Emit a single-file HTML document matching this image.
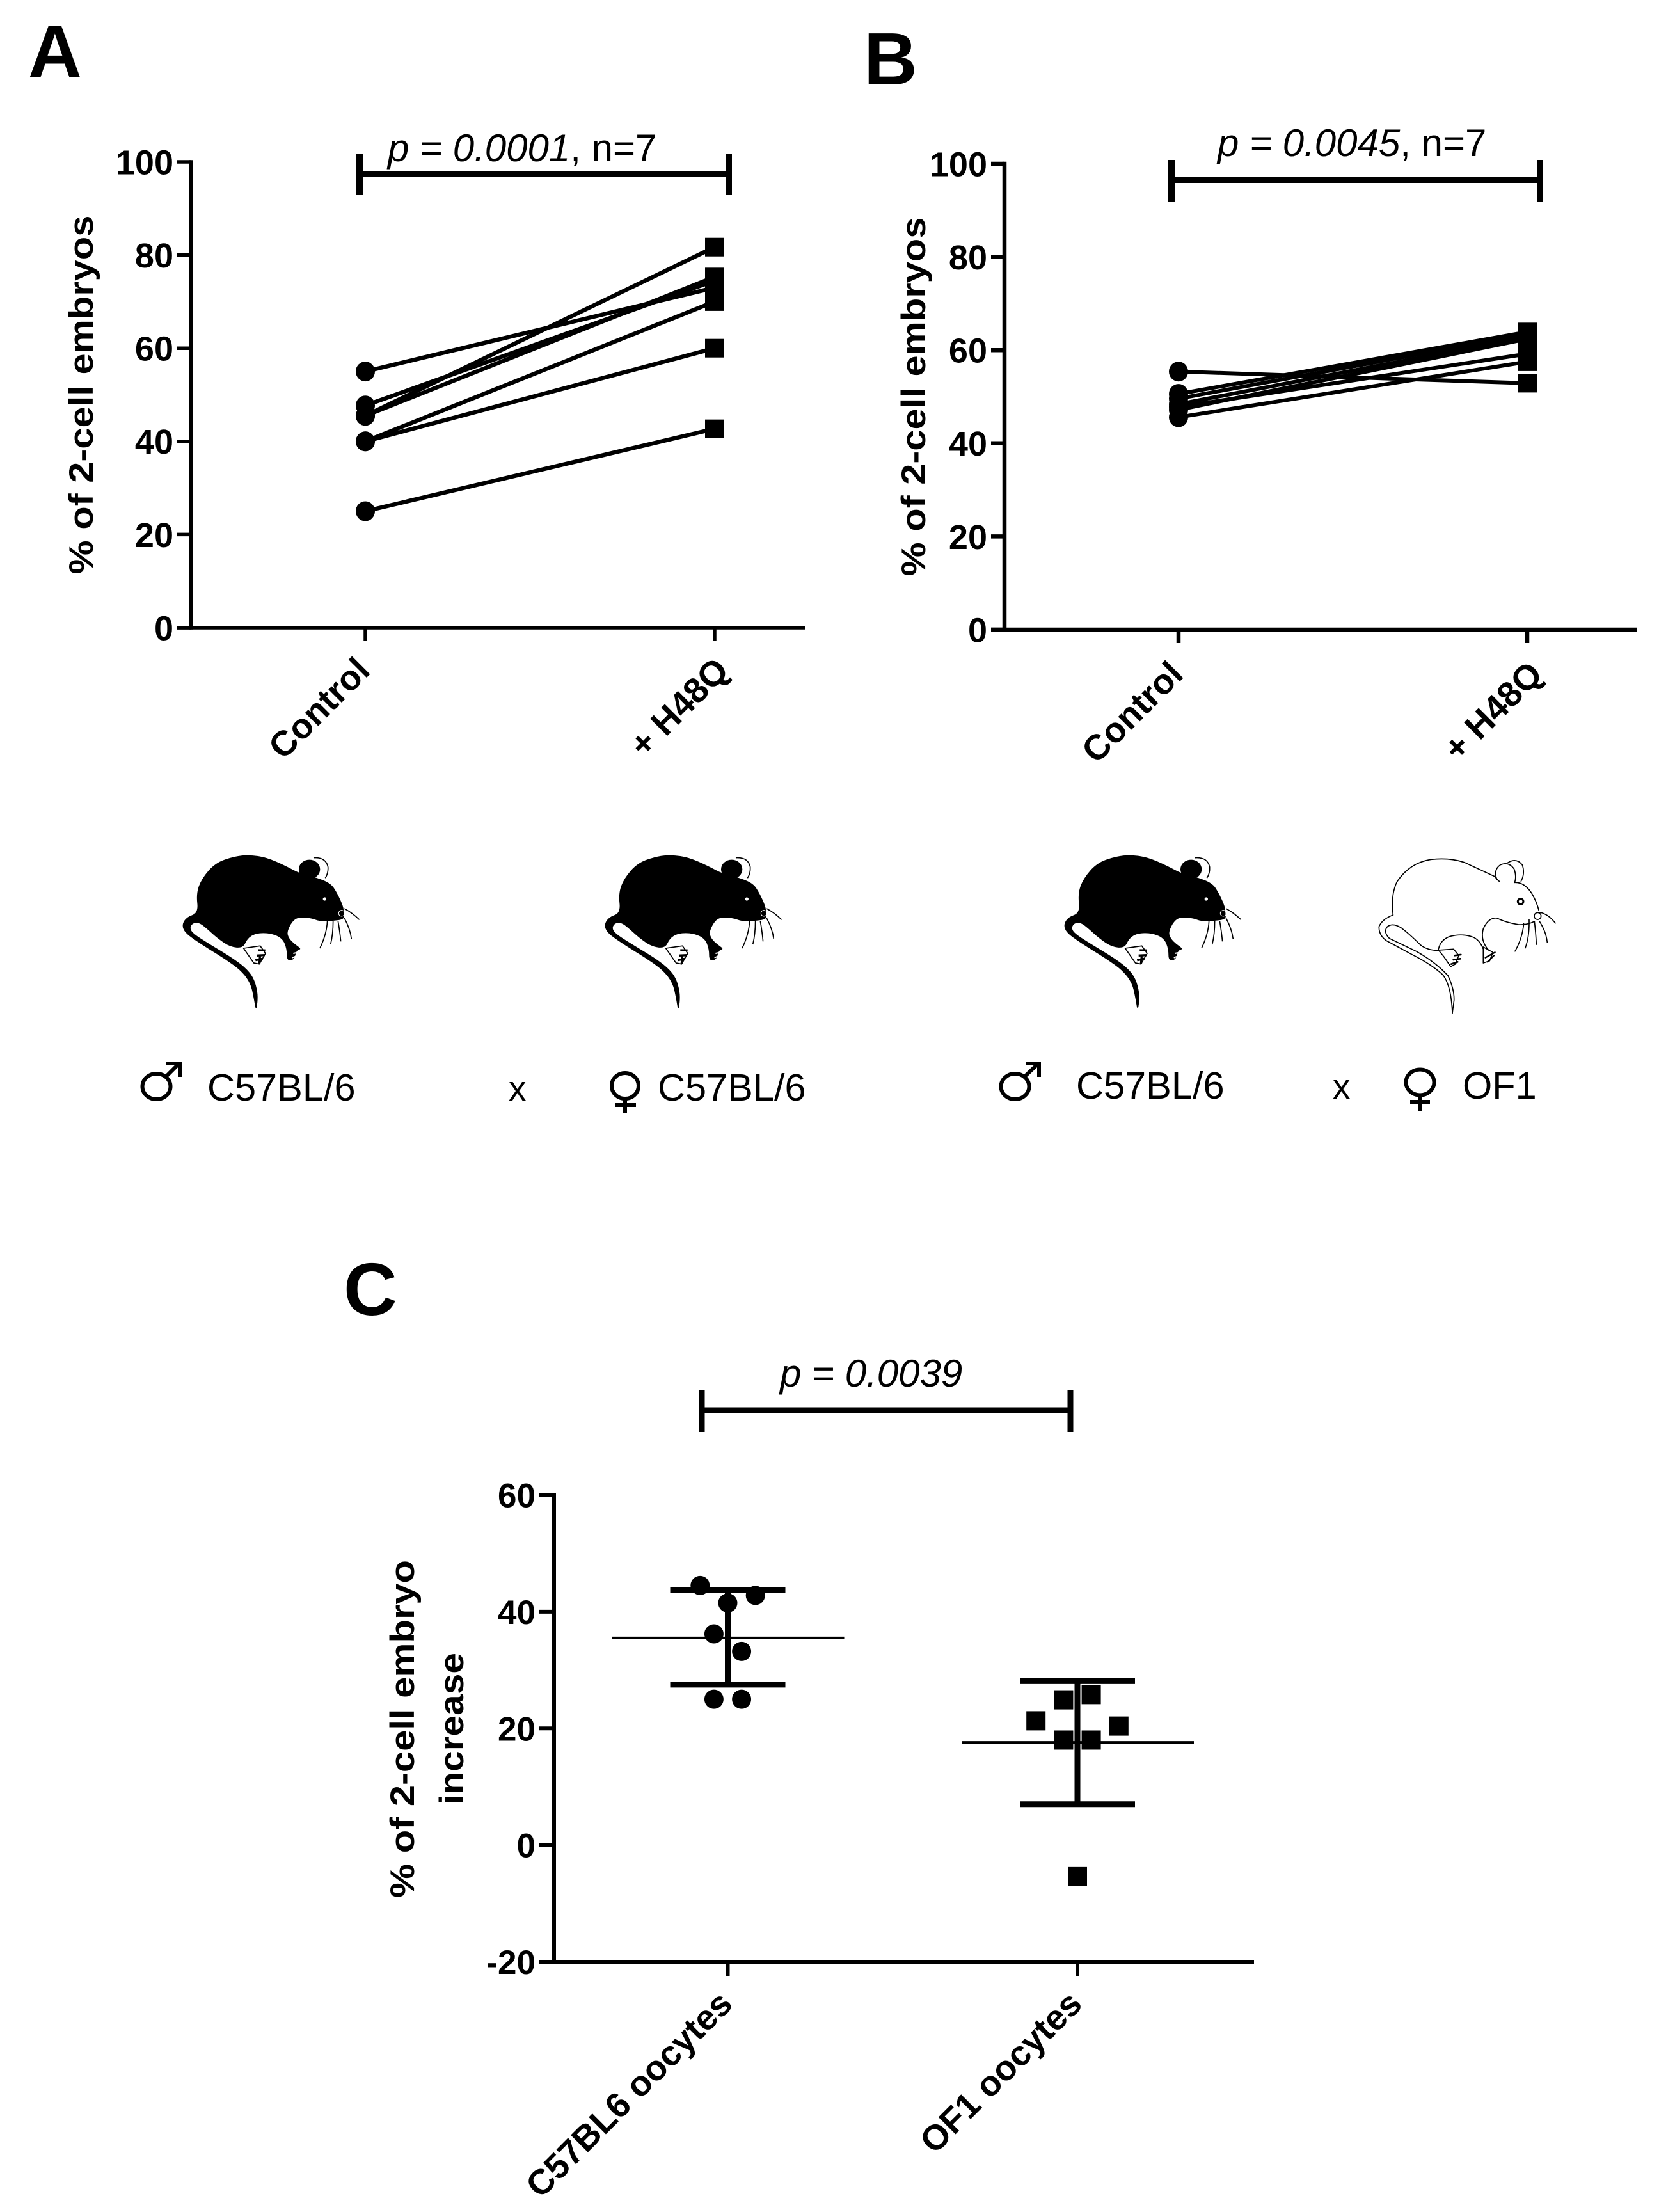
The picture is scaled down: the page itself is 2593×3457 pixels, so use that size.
<!DOCTYPE html>
<html lang="en">
<head>
<meta charset="utf-8">
<title>2-cell embryo rates</title>
<style>
html,body{margin:0;padding:0;background:#fff;}
svg{display:block;}
text{font-family:"Liberation Sans",Arial,sans-serif;fill:#000;}
.letter{font-weight:700;font-size:116px;}
.strain{font-size:59.500px;}
</style>
</head>
<body>
<svg id="figure" xmlns="http://www.w3.org/2000/svg" width="2593" height="3457" viewBox="0 0 2593 3457">
  <rect width="2593" height="3457" fill="#fff"/>
  <text class="letter" x="44" y="120">A</text>
  <text class="letter" x="1350" y="132">B</text>
  <text class="letter" x="537" y="2055">C</text>

  <defs>
    <g id="black-mouse">
      <path id="black-mouse-body" fill="#000" d=""/>
      <ellipse cx="671" cy="116" rx="50" ry="45" fill="#000"/>
      <path d="M690 62 Q748 58 758 105 Q760 135 745 157" fill="none" stroke="#000" stroke-width="5"/>
      <circle cx="742" cy="255" r="8" fill="#fff"/>
      <path d="M362 486 L440 475 L465 510 L436 560 L410 555 Z" fill="#fff" stroke="#000" stroke-width="5"/>
      <path d="M430 495 L464 496 M425 520 L462 518 M418 542 L452 535 M436 560 L440 515" fill="none" stroke="#000" stroke-width="10"/>
      <path d="M595 510 L620 505 M590 530 L612 522" stroke="#fff" stroke-width="6" fill="none"/>
      <path d="M835 300 Q872 320 905 352 M835 345 Q862 395 868 442 M755 358 Q752 420 720 486 M782 358 Q782 420 770 468 M805 358 Q814 410 818 454" fill="none" stroke="#000" stroke-width="5"/>
      <circle cx="822" cy="322" r="14" fill="none" stroke="#fff" stroke-width="3"/>
    </g>
    <g id="white-mouse" fill="none" stroke="#000" stroke-width="5" stroke-linejoin="round" stroke-linecap="round">
      <path d="M112 330 Q100 240 130 175 Q190 85 290 70 Q380 60 450 85 L590 150 Q600 165 610 172"/>
      <path d="M600 165 Q580 120 615 95 Q655 78 680 115 Q692 150 682 178"/>
      <path d="M650 85 Q690 60 718 95 Q732 135 712 172"/>
      <path d="M682 178 Q725 175 760 225 Q785 265 796 310"/>
      <circle cx="790" cy="335" r="16"/>
      <circle cx="710" cy="267" r="13" stroke-width="9"/>
      <path d="M775 360 Q740 378 700 375 Q640 365 600 345 Q560 340 535 395 Q520 450 560 495"/>
      <path d="M112 330 Q60 350 46 385 Q45 425 80 450 L200 515 Q290 560 345 610 Q385 660 390 790"/>
      <path d="M325 497 Q270 495 240 470 Q190 420 150 390 Q110 365 85 385 Q65 410 95 440 L220 500 Q310 550 370 615 Q400 680 398 730 L390 790"/>
      <path d="M325 490 Q335 445 380 430 Q440 415 490 435 Q520 450 535 490"/>
      <path d="M325 495 L396 490 L420 520 L405 560 L382 572 L350 525 Z"/>
      <path d="M400 520 L430 516 M395 540 L428 535 M385 560 L415 550" stroke-width="8"/>
      <path d="M535 480 L580 505 L565 545 L535 555 Z"/>
      <path d="M545 530 L590 505 M555 550 L585 520" stroke-width="7"/>
      <path d="M800 318 Q840 325 873 368 M800 362 Q830 410 835 458 M725 370 Q718 440 684 500 M750 352 Q752 430 732 485 M775 360 Q782 420 784 468"/>
    </g>
  </defs>

  <g>
    <g fill="none" stroke="#000" stroke-width="6">
      <ellipse cx="244.500" cy="1698" rx="22" ry="20"/>
      <path d="M259 1683 L279 1663 M260 1662 H281 V1683"/>
    </g>
    <text class="strain" x="324" y="1720">C57BL/6</text>
    <text class="strain" x="795" y="1720" style="font-size:55px">x</text>
    <g fill="none" stroke="#000" stroke-width="6">
      <ellipse cx="977" cy="1697" rx="21" ry="20"/>
      <path d="M977 1717 V1740 M961 1727 H994"/>
    </g>
    <text class="strain" x="1028" y="1720">C57BL/6</text>
  </g>
  <g>
    <g fill="none" stroke="#000" stroke-width="6">
      <ellipse cx="1586.500" cy="1698" rx="22" ry="20"/>
      <path d="M1601 1683 L1622 1663 M1603 1662 H1624 V1683"/>
    </g>
    <text class="strain" x="1682" y="1717">C57BL/6</text>
    <text class="strain" x="2083" y="1717" style="font-size:55px">x</text>
    <g fill="none" stroke="#000" stroke-width="6">
      <ellipse cx="2219.500" cy="1691.500" rx="22" ry="20"/>
      <path d="M2219 1712 V1736 M2204 1722 H2235"/>
    </g>
    <text class="strain" x="2286" y="1717">OF1</text>
  </g>
  <g id="charts"></g>
  <g id="mice"></g>
</svg>

<script>
// Panel A values
const categoriesA = ['Control', '+ H48Q'];
const controlA = [55, 47.7, 45.5, 45.5, 40, 40, 25];
const h48qA = [73, 74.5, 81.7, 75.3, 70, 60, 42.7];
const ticksA = [0, 20, 40, 60, 80, 100];

// Panel B values
const categoriesB = ['Control', '+ H48Q'];
const controlB = [55.4, 50.6, 49.6, 48.4, 47.8, 47.2, 45.6];
const h48qB = [52.9, 63.9, 63.4, 62.8, 59.2, 62.4, 57.5];
const ticksB = [0, 20, 40, 60, 80, 100];

// Panel C values
const groupsC = ['C57BL6 oocytes', 'OF1 oocytes'];
const c57Values = [44.5, 42.8, 41.5, 36.2, 33.2, 25, 25];
const c57Slots = [-2, 2, 0, -1, 1, -1, 1];
const of1Values = [24.9, 25.8, 21.3, 20.4, 18, 18, -5.4];
const of1Slots = [-1, 1, -3, 3, -1, 1, 0];
const meansC = [35.5, 17.6];
const upperC = [43.7, 28.1];
const lowerC = [27.5, 7];
const ticksC = [-20, 0, 20, 40, 60];

const NS = 'http://www.w3.org/2000/svg';
const charts = document.getElementById('charts');

function mk(tag, attrs, parent, text) {
  const node = document.createElementNS(NS, tag);
  for (const k in attrs) node.setAttribute(k, attrs[k]);
  if (text !== undefined) node.textContent = text;
  parent.appendChild(node);
  return node;
}
function linearScale(d0, d1, r0, r1) {
  return function (v) { return r0 + (v - d0) * (r1 - r0) / (d1 - d0); };
}

function drawAxes(g, prefix, o) {
  const yAxis = mk('line', {x1: o.axisX, x2: o.axisX, y1: o.y(o.ticks[o.ticks.length - 1]) - o.sw / 2, y2: o.y(o.ticks[0]) + o.sw / 2, stroke: '#000', 'stroke-width': o.sw}, g);
  
  
  const xAxis = mk('line', {x1: o.tickLeft, x2: o.axisRight, y1: o.y(o.ticks[0]), y2: o.y(o.ticks[0]), stroke: '#000', 'stroke-width': o.sw}, g);
  
  
  o.ticks.forEach(function (t) {
    const tick = mk('line', {x1: o.tickLeft, x2: o.axisX, y1: o.y(t), y2: o.y(t), stroke: '#000', 'stroke-width': o.sw}, g);
    
    
    const label = mk('text', {x: o.tickLeft - 6, y: o.y(t) + o.fs * 0.36, 'text-anchor': 'end', 'font-weight': 700, 'font-size': o.fs}, g, String(t));
    
    
  });
  o.categories.forEach(function (c, i) {
    const px = o.x(i);
    const tick = mk('line', {x1: px, x2: px, y1: o.y(o.ticks[0]), y2: o.y(o.ticks[0]) + o.tickLen, stroke: '#000', 'stroke-width': o.sw}, g);
    
    
    const ax = px + o.labelDx[i];
    const ay = o.labelY;
    const label = mk('text', {x: ax, y: ay, 'text-anchor': 'end', 'font-weight': 700, 'font-size': o.labelFs, transform: 'rotate(-45 ' + ax + ' ' + ay + ')'}, g, c);
    
    
  });
}

function drawBracket(g, prefix, x1, x2, y, top, bottom, sw) {
  const bar = mk('line', {x1: x1, x2: x2, y1: y, y2: y, stroke: '#000', 'stroke-width': sw}, g);
  
  
  const capL = mk('line', {x1: x1, x2: x1, y1: top, y2: bottom, stroke: '#000', 'stroke-width': sw}, g);
  
  
  const capR = mk('line', {x1: x2, x2: x2, y1: top, y2: bottom, stroke: '#000', 'stroke-width': sw}, g);
  
  
}

function drawPText(g, prefix, x, y, fs, italic, normal) {
  const t = mk('text', {x: x, y: y, 'font-size': fs}, g);
  
  
  const a = mk('tspan', {'font-style': 'italic'}, t, italic);
  
  
  if (normal) {
    const b = mk('tspan', {}, t, normal);
    
    
  }
}

function drawYTitle(g, name, cx, cy, fs, len, str) {
  const t = mk('text', {x: cx, y: cy, 'text-anchor': 'middle', 'font-weight': 700, 'font-size': fs, textLength: len, lengthAdjust: 'spacingAndGlyphs', transform: 'rotate(-90 ' + cx + ' ' + cy + ')'}, g, str);
  
  
}

function drawPaired(prefix, o, before, after) {
  const g = mk('g', {}, charts);
  
  
  drawAxes(g, prefix, o);
  before.forEach(function (v, i) {
    const line = mk('line', {x1: o.x(0), y1: o.y(v), x2: o.x(1), y2: o.y(after[i]), stroke: '#000', 'stroke-width': o.lineW}, g);
    
    
  });
  before.forEach(function (v) {
    const dot = mk('ellipse', {cx: o.x(0), cy: o.y(v), rx: 15, ry: 15.5, fill: '#000'}, g);
    
    
  });
  after.forEach(function (v) {
    const sq = mk('rect', {x: o.x(1) - 15, y: o.y(v) - 14.5, width: 30, height: 29, fill: '#000'}, g);
    
    
  });
  return g;
}

// Panel A
const xA = linearScale(0, 1, 571, 1117);
const yA = linearScale(0, 100, 981, 253);
const gA = drawPaired('panel-a', {axisX: 298.5, axisRight: 1258, tickLeft: 277, tickLen: 21, sw: 5.5, fs: 54, labelFs: 55, lineW: 6.5, x: xA, y: yA, ticks: ticksA, categories: categoriesA, labelDx: [10, 25], labelY: 1051}, controlA, h48qA);
drawBracket(gA, 'panel-a', 562, 1139, 272, 240, 304, 10);
drawPText(gA, 'panel-a', 606, 252, 60, 'p = 0.0001', ', n=7');
drawYTitle(gA, 'panel-a-y-axis-title', 145, 617, 53, 561, '% of 2-cell embryos');

// Panel B
const xB = linearScale(0, 1, 1842, 2387);
const yB = linearScale(0, 100, 984, 256);
const gB = drawPaired('panel-b', {axisX: 1570, axisRight: 2558, tickLeft: 1549, tickLen: 21, sw: 6.5, fs: 54, labelFs: 55, lineW: 6, x: xB, y: yB, ticks: ticksB, categories: categoriesB, labelDx: [10, 27], labelY: 1057}, controlB, h48qB);
drawBracket(gB, 'panel-b', 1831, 2407, 281, 250, 315, 10);
drawPText(gB, 'panel-b', 1903, 244, 60, 'p = 0.0045', ', n=7');
drawYTitle(gB, 'panel-b-y-axis-title', 1446, 620, 53, 561, '% of 2-cell embryos');

// Panel C
const xC = linearScale(0, 1, 1137.5, 1684);
const yC = linearScale(-20, 60, 3066, 2336.5);
const gC = mk('g', {}, charts);


drawAxes(gC, 'panel-c', {axisX: 866, axisRight: 1960, tickLeft: 843, tickLen: 22, sw: 6, fs: 53, labelFs: 55, x: xC, y: yC, ticks: ticksC, categories: groupsC, labelDx: [10, 10], labelY: 3135});

const slotW = 21.6;
function drawSummary(i) {
  const px = xC(i);
  const mean = mk('line', {x1: px - 181, x2: px + 182, y1: yC(meansC[i]), y2: yC(meansC[i]), stroke: '#000', 'stroke-width': 4}, gC);
  
  
  const stem = mk('line', {x1: px, x2: px, y1: yC(upperC[i]), y2: yC(lowerC[i]), stroke: '#000', 'stroke-width': 9}, gC);
  
  
  const up = mk('line', {x1: px - 90, x2: px + 90, y1: yC(upperC[i]), y2: yC(upperC[i]), stroke: '#000', 'stroke-width': 9}, gC);
  
  
  const low = mk('line', {x1: px - 90, x2: px + 90, y1: yC(lowerC[i]), y2: yC(lowerC[i]), stroke: '#000', 'stroke-width': 9}, gC);
  
  
}
drawSummary(0);
drawSummary(1);
c57Values.forEach(function (v, i) {
  const dot = mk('circle', {cx: xC(0) + c57Slots[i] * slotW, cy: yC(v), r: 15, fill: '#000'}, gC);
  
  
});
of1Values.forEach(function (v, i) {
  const sq = mk('rect', {x: xC(1) + of1Slots[i] * slotW - 15, y: yC(v) - 15, width: 30, height: 30, fill: '#000'}, gC);
  
  
});
drawBracket(gC, 'panel-c', 1097, 1673, 2204, 2172, 2238, 9);
drawPText(gC, 'panel-c', 1219, 2167, 60, 'p = 0.0039', '');
drawYTitle(gC, 'panel-c-y-axis-title-line-1', 647, 2702, 53, 528, '% of 2-cell embryo');
drawYTitle(gC, 'panel-c-y-axis-title-line-2', 724, 2702, 53, 238, 'increase');

// Mice
function smoothClosed(pts) {
  const mid = function (a, b) { return [(a[0] + b[0]) / 2, (a[1] + b[1]) / 2]; };
  const n = pts.length;
  const s = mid(pts[n - 1], pts[0]);
  let d = 'M' + s[0] + ' ' + s[1];
  for (let i = 0; i < n; i++) {
    const m = mid(pts[i], pts[(i + 1) % n]);
    d += ' Q' + pts[i][0] + ' ' + pts[i][1] + ' ' + m[0] + ' ' + m[1];
  }
  return d + ' Z';
}
const mouseOutline = [[150,320],[140,230],[165,160],[230,85],[320,55],[390,48],[470,60],[560,100],[625,135],[690,150],[770,180],[800,225],[830,290],[832,320],[835,350],[780,358],[720,360],[680,345],[620,340],[590,360],[565,410],[575,440],[600,465],[635,490],[610,495],[600,540],[565,545],[565,490],[545,440],[490,415],[420,415],[380,440],[360,485],[300,480],[240,440],[180,385],[150,365],[120,370],[110,395],[130,420],[200,465],[300,525],[370,575],[410,625],[428,690],[428,740],[420,780],[410,720],[395,650],[350,590],[280,540],[200,490],[130,445],[85,410],[73,375],[95,340]];
document.getElementById('black-mouse-body').setAttribute('d', smoothClosed(mouseOutline));

const miceGroup = document.getElementById('mice');
function placeMouse(name, ref, tx, ty) {
  const u = mk('use', {href: ref, transform: 'translate(' + tx + ' ' + ty + ') scale(0.3333)'}, miceGroup);
  
  
}
placeMouse('male-c57-mouse-a', '#black-mouse', 260, 1320);
placeMouse('female-c57-mouse-a', '#black-mouse', 920, 1320);
placeMouse('male-c57-mouse-b', '#black-mouse', 1638, 1320);
placeMouse('female-of1-mouse-b', '#white-mouse', 2140, 1320);
</script>
</body>
</html>
